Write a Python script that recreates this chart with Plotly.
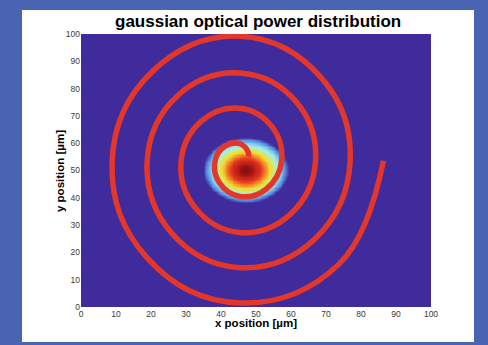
import numpy as np
import plotly.graph_objects as go

# ---------------- data ----------------
title_text = "gaussian optical power distribution"
x_label = "x position [µm]"
y_label = "y position [µm]"
tick_vals = [0, 10, 20, 30, 40, 50, 60, 70, 80, 90, 100]
tick_text = ["0", "10", "20", "30", "40", "50", "60", "70", "80", "90", "100"]

# gaussian spot (centre and widths, in µm)
gauss_center = [47.0, 50.2]
gauss_sigma = [6.4, 6.3]
grid_x = np.arange(0, 100.5, 0.5)
grid_y = np.arange(0, 100.5, 0.5)

# spiral path, points read every eighth of a turn (µm)
spiral_x = [47.8, 47.8, 45.4, 41.2, 38.3, 39.5, 45.4, 53.0, 57.3,
            54.7, 45.4, 34.4, 28.6, 32.6, 45.4, 59.9, 67.0,
            61.6, 45.4, 27.5, 18.9, 25.8, 45.4, 66.8, 76.9,
            68.5, 45.4, 20.6, 8.9, 18.9, 45.4, 73.7, 86.4]
spiral_y = [55.0, 56.6, 59.8, 59.0, 53.4, 45.6, 40.5, 43.3, 53.4,
            65.8, 72.8, 68.1, 53.4, 36.4, 27.3, 34.1, 53.4,
            75.0, 85.7, 77.3, 53.4, 27.2, 14.4, 24.9, 53.4,
            84.2, 99.2, 86.5, 53.4, 18.0, 1.5, 15.7, 53.6]

# ---------------- figure ----------------
GX, GY = np.meshgrid(grid_x, grid_y)
z = np.exp(-((GX - gauss_center[0]) ** 2) / (2 * gauss_sigma[0] ** 2)
           - ((GY - gauss_center[1]) ** 2) / (2 * gauss_sigma[1] ** 2))

bg = "#3f2b9c"
colorscale = [
    [0.00, bg],
    [0.16, bg],
    [0.22, "#5a8fe0"],
    [0.29, "#7fcdee"],
    [0.36, "#a9ebe8"],
    [0.46, "#c9ec80"],
    [0.56, "#f2dc2c"],
    [0.67, "#f3902a"],
    [0.79, "#e43a1e"],
    [0.92, "#c01e18"],
    [1.00, "#861010"],
]

fig = go.Figure()
fig.add_trace(go.Heatmap(
    x=grid_x, y=grid_y, z=z, colorscale=colorscale, zmin=0, zmax=1,
    showscale=False, hoverinfo="skip", zsmooth="best",
))
fig.add_trace(go.Scatter(
    x=spiral_x, y=spiral_y, mode="lines",
    line=dict(color="#e2372a", width=5.5, shape="spline", smoothing=1.2),
    hoverinfo="skip", showlegend=False,
))

W, H = 488, 345
L, R, T, B = 81, 431, 34, 307
pw, ph = R - L, B - T

def px_x(p):
    return (p - L) / pw

def px_y(p):
    return (B - p) / ph

font_family = "Liberation Sans, Arial, sans-serif"

fig.update_layout(
    width=W, height=H,
    margin=dict(l=L, r=W - R, t=T, b=H - B, pad=0),
    paper_bgcolor="#4a64b4",
    plot_bgcolor=bg,
    showlegend=False,
    font=dict(family=font_family, color="#333333", size=8.5),
    xaxis=dict(range=[0, 100], tickvals=tick_vals, ticktext=tick_text,
               showgrid=False, zeroline=False, ticks="", showline=False,
               tickfont=dict(size=8.5, color="#3a3a3a")),
    yaxis=dict(range=[0, 100], tickvals=tick_vals, ticktext=tick_text,
               showgrid=False, zeroline=False, ticks="", showline=False,
               tickfont=dict(size=8.5, color="#3a3a3a")),
    shapes=[dict(type="rect", xref="paper", yref="paper", layer="below",
                 x0=px_x(22), x1=px_x(474), y0=px_y(342), y1=px_y(10),
                 fillcolor="white", line=dict(width=0))],
    annotations=[
        dict(text="<b>" + title_text + "</b>", xref="paper", yref="paper",
             x=px_x(257.5), y=px_y(22), xanchor="center", yanchor="middle",
             showarrow=False, font=dict(size=17, color="black", family=font_family)),
        dict(text="<b>" + x_label + "</b>", xref="paper", yref="paper",
             x=px_x(256), y=px_y(323), xanchor="center", yanchor="middle",
             showarrow=False, font=dict(size=11.5, color="black", family=font_family)),
        dict(text="<b>" + y_label + "</b>", xref="paper", yref="paper",
             x=px_x(60), y=px_y(171), xanchor="center", yanchor="middle",
             textangle=-90,
             showarrow=False, font=dict(size=11.5, color="black", family=font_family)),
    ],
)

fig.write_html(
    "out.html",
    config={"displayModeBar": False},
    post_script="document.body.style.margin='0';document.body.style.padding='0';"
                "document.body.style.overflow='hidden';",
)
